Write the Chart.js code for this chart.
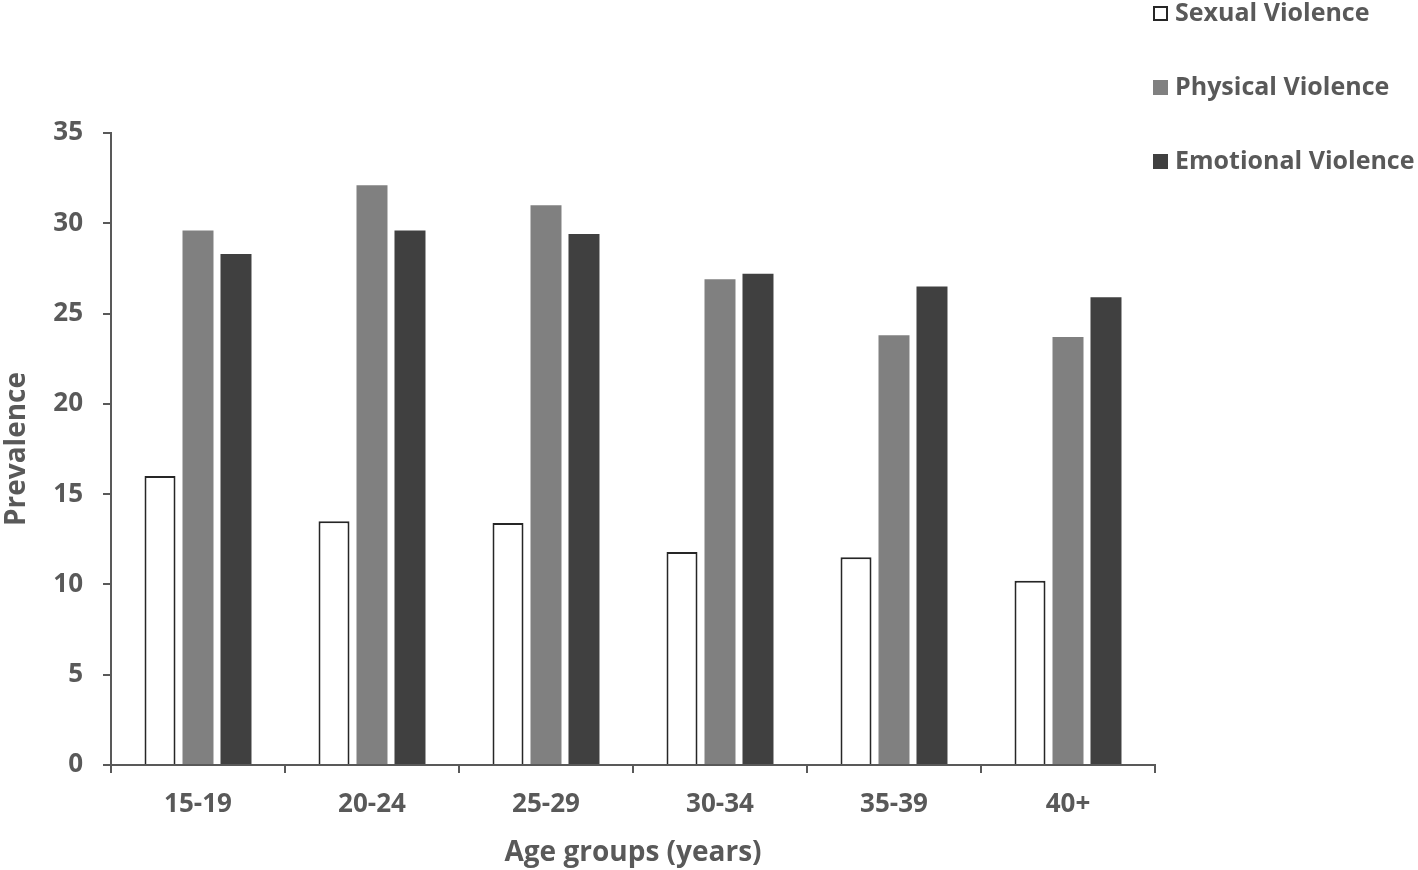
<!DOCTYPE html>
<html>
<head>
<meta charset="utf-8">
<script src="https://cdn.jsdelivr.net/npm/chart.js@4"></script>
<style>
  body { margin: 0; background: #fff; }
  #wrap { position: relative; width: 1418px; height: 870px; }
  #legend { position: absolute; left: 1153px; top: -6px; font: bold 25px "Open Sans", sans-serif; color: #595959; }
  #legend div { height: 74px; display: flex; align-items: flex-start; white-space: nowrap; }
  #legend span.box { display: inline-block; width: 15px; height: 15px; margin: 12px 7px 0 0; box-sizing: border-box; }
</style>
</head>
<body>
<div id="wrap">
  <canvas id="grafico"></canvas>
  <div id="legend"></div>
</div>
<script>
const ageGroups = ['15-19', '20-24', '25-29', '30-34', '35-39', '40+'];
const sexualViolence = [16.0, 13.5, 13.4, 11.8, 11.5, 10.2];
const physicalViolence = [29.6, 32.1, 31.0, 26.9, 23.8, 23.7];
const emotionalViolence = [28.3, 29.6, 29.4, 27.2, 26.5, 25.9];
const yTicks = [0, 5, 10, 15, 20, 25, 30, 35];

const grey = '#595959';
const font = { family: '"Open Sans", sans-serif', size: 26, weight: 'bold' };
const titleFont = { family: '"Open Sans", sans-serif', size: 28, weight: 'bold' };

const series = [
  { label: 'Sexual Violence', data: sexualViolence, backgroundColor: '#ffffff', borderColor: '#262626', borderWidth: 2 },
  { label: 'Physical Violence', data: physicalViolence, backgroundColor: '#808080', borderColor: '#808080', borderWidth: 0 },
  { label: 'Emotional Violence', data: emotionalViolence, backgroundColor: '#404040', borderColor: '#404040', borderWidth: 0 }
];

const ctx = document.getElementById('grafico').getContext('2d');

new Chart(ctx, {
  type: 'bar',
  data: {
    labels: ageGroups,
    datasets: series.map(s => Object.assign({
      categoryPercentage: 0.655,
      barPercentage: 0.816,
      borderSkipped: 'bottom'
    }, s))
  },
  options: {
    responsive: true,
    maintainAspectRatio: false,
    animation: false,
    layout: { padding: { top: 133, right: 263, left: 0, bottom: 0 } },
    plugins: {
      legend: { display: false },
      tooltip: { enabled: false }
    },
    scales: {
      x: {
        grid: { drawOnChartArea: false, drawTicks: true, tickLength: 8, color: grey, lineWidth: 2, offset: true },
        border: { color: grey, width: 2 },
        ticks: { color: grey, font: font, padding: 16 },
        title: { display: true, text: 'Age groups (years)', color: grey, font: titleFont, padding: 0 },
        afterFit: function(scale) { scale.height = 105; }
      },
      y: {
        min: 0,
        max: 35,
        afterBuildTicks: function(scale) { scale.ticks = yTicks.map(v => ({ value: v })); },
        grid: { drawOnChartArea: false, drawTicks: true, tickLength: 8, color: grey, lineWidth: 2 },
        border: { color: grey, width: 2 },
        ticks: { color: grey, font: font, padding: 20 },
        title: { display: true, text: 'Prevalence', color: grey, font: titleFont, padding: 0 },
        afterFit: function(scale) { scale.width = 111; }
      }
    }
  }
});

const legendEl = document.getElementById('legend');
series.forEach(s => {
  const row = document.createElement('div');
  const box = document.createElement('span');
  box.className = 'box';
  box.style.background = s.backgroundColor;
  if (s.borderWidth) box.style.border = s.borderWidth + 'px solid ' + s.borderColor;
  const txt = document.createElement('span');
  txt.textContent = s.label;
  row.appendChild(box);
  row.appendChild(txt);
  legendEl.appendChild(row);
});
</script>
</body>
</html>
